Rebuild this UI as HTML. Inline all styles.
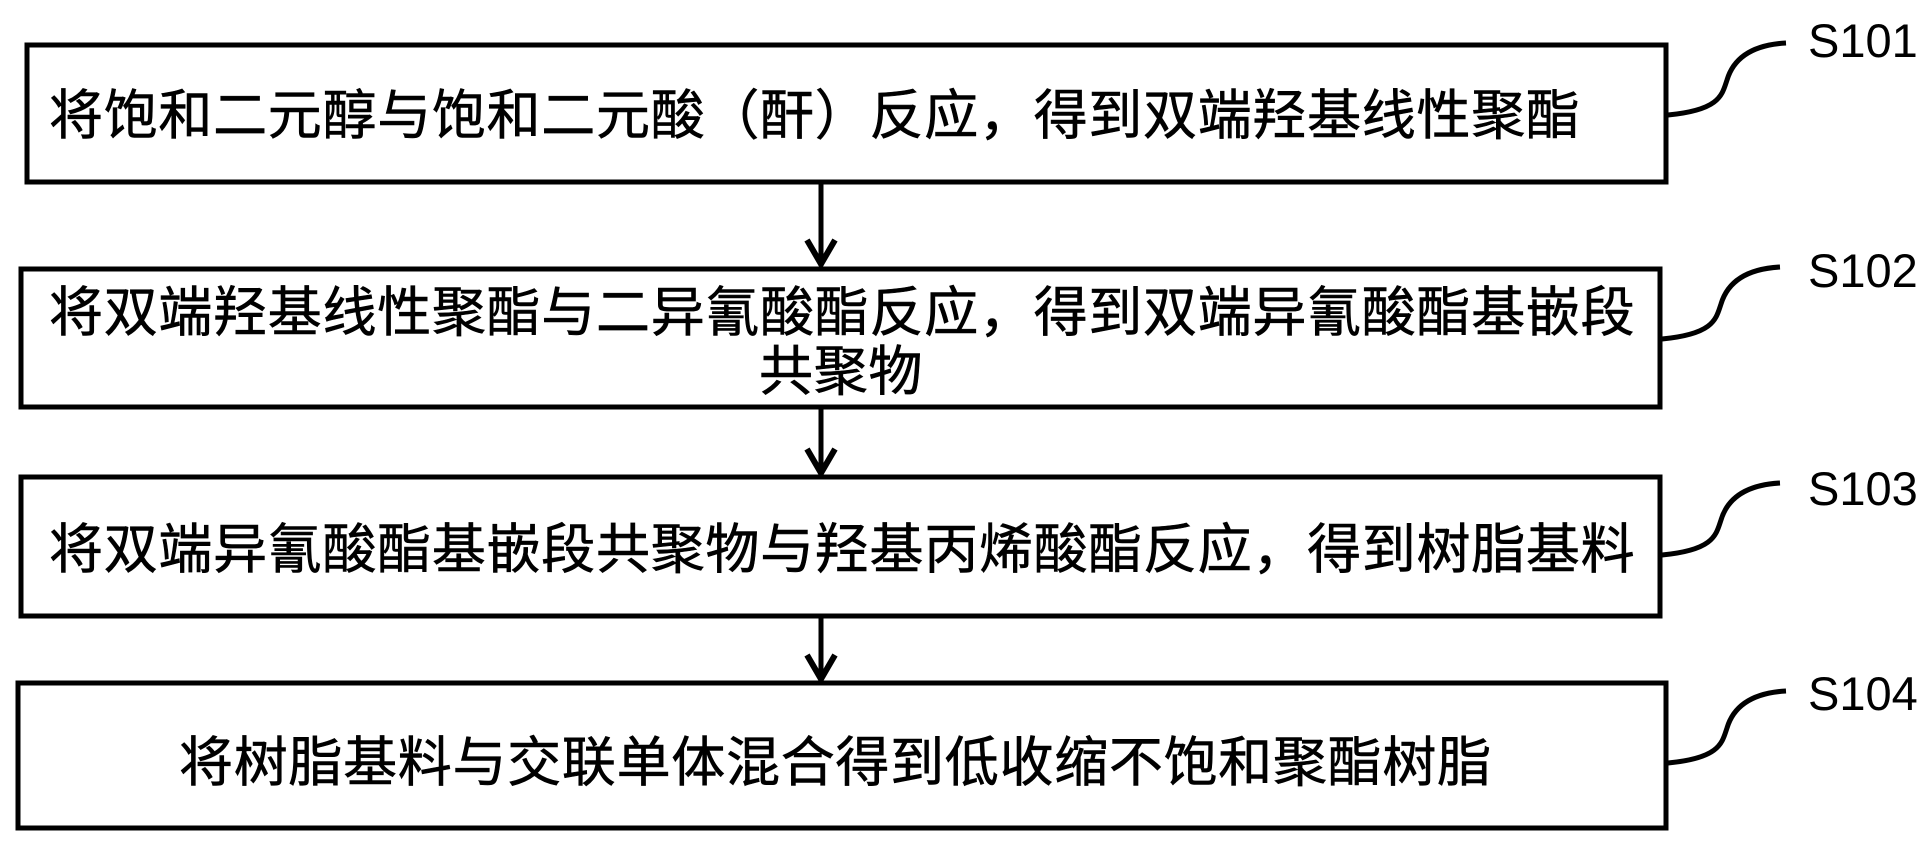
<!DOCTYPE html>
<html><head><meta charset="utf-8"><style>
body{margin:0;width:1931px;height:846px;background:#fff;position:relative;overflow:hidden}
.t{position:absolute;font-family:"Liberation Sans","Noto Sans CJK SC",sans-serif;font-size:54px;letter-spacing:0.7px;white-space:nowrap;line-height:1;color:#000;-webkit-text-stroke:0.6px #000}
.l{position:absolute;font-family:"Liberation Sans",sans-serif;font-size:47px;line-height:1;color:#000}
</style></head><body>
<svg width="1931" height="846" style="position:absolute;left:0;top:0">
<g fill="none" stroke="#000" stroke-width="5">
<rect x="27" y="45" width="1639" height="137"/>
<rect x="21" y="269" width="1639" height="138"/>
<rect x="21" y="477" width="1639" height="139"/>
<rect x="18" y="683" width="1648" height="145"/>
<path d="M821 184V266M821 409V474M821 618V681"/>
<path d="M807 240L821 264L835 240M807 449L821 473L835 449M807 655L821 679L835 655" stroke-width="6"/>
<path d="M1668 115C1720 110 1722 95 1727 80C1733 60 1750 45 1786 43"/>
<path d="M1662 339C1714 334 1716 319 1721 304C1727 284 1744 269 1780 267"/>
<path d="M1662 555C1714 550 1716 535 1721 520C1727 500 1744 485 1780 483"/>
<path d="M1668 763C1720 758 1722 743 1727 728C1733 708 1750 693 1786 691"/>
</g></svg>
<div class="t" style="left:49px;top:89px">将饱和二元醇与饱和二元酸（酐）反应，得到双端羟基线性聚酯</div>
<div class="t" style="left:49px;top:286px">将双端羟基线性聚酯与二异氰酸酯反应，得到双端异氰酸酯基嵌段</div>
<div class="t" style="left:759px;top:345px">共聚物</div>
<div class="t" style="left:49px;top:523px">将双端异氰酸酯基嵌段共聚物与羟基丙烯酸酯反应，得到树脂基料</div>
<div class="t" style="left:179px;top:736px">将树脂基料与交联单体混合得到低收缩不饱和聚酯树脂</div>
<div class="l" style="left:1808px;top:17px">S101</div>
<div class="l" style="left:1808px;top:247px">S102</div>
<div class="l" style="left:1808px;top:465px">S103</div>
<div class="l" style="left:1808px;top:670px">S104</div>
</body></html>
